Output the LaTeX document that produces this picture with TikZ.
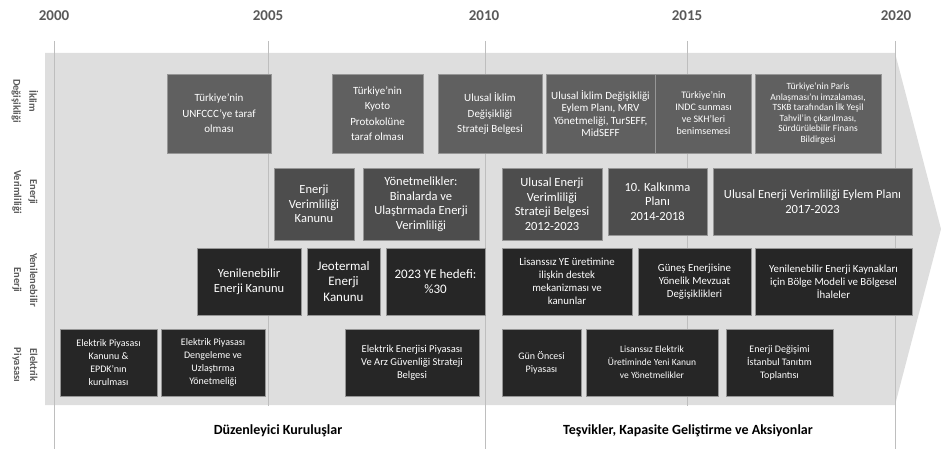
\documentclass[tikz,border=0pt]{standalone}
\usepackage{fontspec}
\setmainfont{Carlito}
\usepackage{tikz}
\usetikzlibrary{positioning}
\definecolor{bandgray}{RGB}{222,222,222}
\definecolor{gridgray}{RGB}{190,190,190}
\definecolor{labelgray}{RGB}{89,89,89}
\definecolor{climatefill}{RGB}{96,96,96}
\definecolor{effectfill}{RGB}{77,77,77}
\definecolor{darkfill}{RGB}{38,38,38}
\definecolor{boxline}{RGB}{150,150,150}
\tikzstyle{event} = [rectangle, draw=boxline, line width=0.5pt, text=white, align=center, inner sep=0.5pt]
\tikzstyle{climate} = [event, fill=climatefill, font=\fontsize{11}{15.5}\selectfont]
\tikzstyle{effect} = [event, fill=effectfill, font=\fontsize{12.5}{14.5}\selectfont]
\tikzstyle{renew} = [event, fill=darkfill, font=\fontsize{12.5}{15}\selectfont]
\tikzstyle{market} = [event, fill=darkfill, font=\fontsize{10}{13}\selectfont]
\tikzstyle{year} = [text=labelgray, font=\fontsize{15}{18}\selectfont\bfseries]
\tikzstyle{rowlabel} = [text=labelgray, rotate=-90, align=center, font=\fontsize{10.5}{16}\selectfont\bfseries]
\tikzstyle{footer} = [text=black, font=\fontsize{14}{16}\selectfont\bfseries]
\tikzstyle{gridline} = [draw=gridgray, line width=0.8pt]

\begin{document}
\begin{tikzpicture}[x=1pt, y=-1pt]
	\useasboundingbox (0,0) rectangle (941,452);
	\fill [bandgray] (45,53) -- (895,53) -- (941,229) -- (895,405) -- (45,405) -- cycle;

	\node (y2000) [year] at (54,16) {2000};
	\node (y2005) [year] at (268,16) {2005};
	\node (y2010) [year] at (484,16) {2010};
	\node (y2015) [year] at (687,16) {2015};
	\node (y2020) [year] at (896,16) {2020};

	\draw [gridline] (54,41) -- (54,449);
	\draw [gridline] (268,41) -- (268,406);
	\draw [gridline] (485,41) -- (485,449);
	\draw [gridline] (687,41) -- (687,406);
	\draw [gridline] (895,41) -- (895,449);

	\node (row_climate) [rowlabel] at (25,101) {İklim\\Değişikliği};
	\node (row_efficiency) [rowlabel] at (25,192) {Enerji\\Verimliliği};
	\node (row_renewable) [rowlabel] at (25,280) {Yenilenebilir\\Enerji};
	\node (row_market) [rowlabel] at (25,365) {Elektrik\\Piyasası};

	\node (unfccc) [climate, minimum width=104, minimum height=79] at (219,113.5) {Türkiye'nin\\UNFCCC'ye taraf\\olması};
	\node (kyoto) [climate, minimum width=91, minimum height=79] at (377.5,113.5) {Türkiye'nin\\Kyoto\\Protokolüne\\taraf olması};
	\node (iklim_strateji) [climate, minimum width=104, minimum height=79] at (490,113.5) {Ulusal İklim\\Değişikliği\\Strateji Belgesi};
	\node (eylem_plani) [climate, minimum width=109, minimum height=79, font=\fontsize{11}{12.5}\selectfont] at (600.5,113.5) {Ulusal İklim Değişikliği\\Eylem Planı, MRV\\Yönetmeliği, TurSEFF,\\MidSEFF};
	\node (indc) [climate, minimum width=96, minimum height=79, font=\fontsize{10}{12}\selectfont, right=0pt of eylem_plani] {Türkiye'nin\\INDC sunması\\ve SKH'leri\\benimsemesi};
	\node (paris) [climate, minimum width=126, minimum height=79, font=\fontsize{9.5}{10.5}\selectfont] at (818,113.5) {Türkiye'nin Paris\\Anlaşması'nı imzalaması,\\TSKB tarafından İlk Yeşil\\Tahvil'in çıkarılması,\\Sürdürülebilir Finans\\Bildirgesi};

	\node (ev_kanunu) [effect, minimum width=80, minimum height=72] at (314,204) {Enerji\\Verimliliği\\Kanunu};
	\node (yonetmelikler) [effect, minimum width=116, minimum height=72] at (421,204) {Yönetmelikler:\\Binalarda ve\\Ulaştırmada Enerji\\Verimliliği};
	\node (ev_strateji) [effect, minimum width=100, minimum height=72] at (552,204) {Ulusal Enerji\\Verimliliği\\Strateji Belgesi\\2012-2023};
	\node (kalkinma) [effect, minimum width=99, minimum height=67] at (657.5,201.5) {10. Kalkınma\\Planı\\2014-2018};
	\node (ev_eylem) [effect, minimum width=199, minimum height=67] at (812.5,201.5) {Ulusal Enerji Verimliliği Eylem Planı\\2017-2023};

	\node (ye_kanunu) [renew, minimum width=104, minimum height=67] at (249,281.5) {Yenilenebilir\\Enerji Kanunu};
	\node (jeotermal) [renew, minimum width=73, minimum height=67, font=\fontsize{13}{15.5}\selectfont] at (343.5,281.5) {Jeotermal\\Enerji\\Kanunu};
	\node (ye_hedef) [renew, minimum width=99, minimum height=67, font=\fontsize{13}{15}\selectfont] at (435.5,281.5) {2023 YE hedefi:\\\%30};
	\node (lisanssiz_ye) [renew, minimum width=130, minimum height=67, font=\fontsize{10.8}{13}\selectfont] at (567,281.5) {Lisanssız YE üretimine\\ilişkin destek\\mekanizması ve\\kanunlar};
	\node (gunes) [renew, minimum width=113, minimum height=67, font=\fontsize{10.8}{13}\selectfont] at (694.5,281.5) {Güneş Enerjisine\\Yönelik Mevzuat\\Değişiklikleri};
	\node (bolge) [renew, minimum width=157, minimum height=67, font=\fontsize{10.8}{13}\selectfont] at (833.5,281.5) {Yenilenebilir Enerji Kaynakları\\için Bölge Modeli ve Bölgesel\\İhaleler};

	\node (ep_kanunu) [market, minimum width=97, minimum height=67] at (108.5,362.5) {Elektrik Piyasası\\Kanunu \&\\EPDK'nın\\kurulması};
	\node (dengeleme) [market, minimum width=104, minimum height=67] at (213,362.5) {Elektrik Piyasası\\Dengeleme ve\\Uzlaştırma\\Yönetmeliği};
	\node (arz) [market, minimum width=134, minimum height=67, font=\fontsize{10.5}{13}\selectfont] at (412,362.5) {Elektrik Enerjisi Piyasası\\Ve Arz Güvenliği Strateji\\Belgesi};
	\node (gun_oncesi) [market, minimum width=79, minimum height=67] at (541.5,362.5) {Gün Öncesi\\Piyasası};
	\node (lisanssiz_el) [market, minimum width=132, minimum height=67, font=\fontsize{9.5}{13}\selectfont] at (652,362.5) {Lisanssız Elektrik\\Üretiminde Yeni Kanun\\ve Yönetmelikler};
	\node (enerji_degisimi) [market, minimum width=107, minimum height=67] at (779.5,362.5) {Enerji Değişimi\\İstanbul Tanıtım\\Toplantısı};

	\node (duzenleyici) [footer] at (278,431) {Düzenleyici Kuruluşlar};
	\node (tesvikler) [footer] at (688,431) {Teşvikler, Kapasite Geliştirme ve Aksiyonlar};

\end{tikzpicture}
\end{document}
